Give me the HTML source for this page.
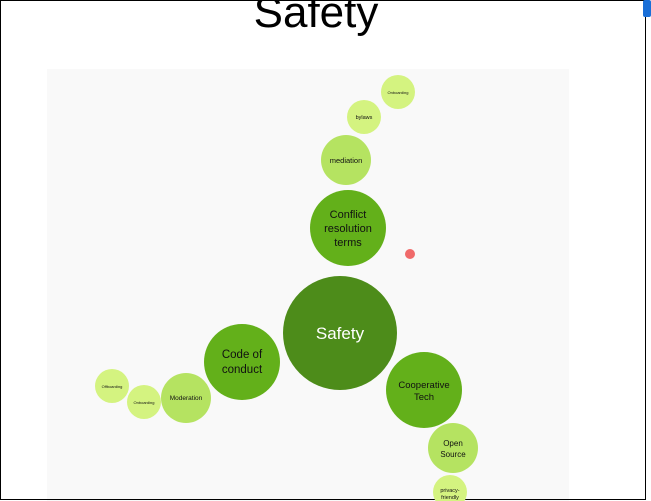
<!DOCTYPE html>
<html><head><style>
html,body{margin:0;padding:0;width:651px;height:501px;overflow:hidden;background:#fff;font-family:"Liberation Sans",sans-serif}
.frame{position:absolute;left:0;top:0;width:644px;height:498px;border:1px solid #000;border-bottom:1px solid #000}
.title{position:absolute;left:0;width:632px;text-align:center;top:-12px;font-size:44px;color:#000}
.tab{position:absolute;left:643px;top:0;width:8px;height:17px;background:#1a6fd8;border-radius:2px}
.panel{position:absolute;left:47px;top:69px;width:522px;height:432px;background:#f9f9f9}
</style></head><body>
<div class="panel"></div>
<div class="frame"></div>
<div class="title">Safety</div>
<div class="tab"></div>
<svg width="651" height="501" style="position:absolute;left:0;top:0" font-family="Liberation Sans, sans-serif" text-anchor="middle" fill="#111">
<circle cx="340" cy="333" r="57" fill="#4d8c1a"/>
<text x="340" y="339" font-size="17" fill="#fff">Safety</text>
<circle cx="348" cy="228" r="38" fill="#63b01a"/>
<text x="348" y="218" font-size="11">Conflict</text>
<text x="348" y="232" font-size="11">resolution</text>
<text x="348" y="246" font-size="11">terms</text>
<circle cx="242" cy="362" r="38" fill="#63b01a"/>
<text x="242" y="358" font-size="11.5">Code of</text>
<text x="242" y="373" font-size="11.5">conduct</text>
<circle cx="424" cy="390" r="38" fill="#63b01a"/>
<text x="424" y="388" font-size="9.5">Cooperative</text>
<text x="424" y="400" font-size="9.5">Tech</text>
<circle cx="346" cy="160" r="25" fill="#b5e361"/>
<text x="346" y="163" font-size="7.5">mediation</text>
<circle cx="364" cy="117" r="17" fill="#d4f380"/>
<text x="364" y="119" font-size="5.5">bylaws</text>
<circle cx="398" cy="92" r="17" fill="#d4f380"/>
<text x="398" y="94" font-size="4">Onboarding</text>
<circle cx="186" cy="398" r="25" fill="#b5e361"/>
<text x="186" y="400" font-size="6.5">Moderation</text>
<circle cx="144" cy="402" r="17" fill="#d4f380"/>
<text x="144" y="404" font-size="4">Onboarding</text>
<circle cx="112" cy="386" r="17" fill="#d4f380"/>
<text x="112" y="388" font-size="4">Offboarding</text>
<circle cx="453" cy="448" r="25" fill="#b5e361"/>
<text x="453" y="446" font-size="8">Open</text>
<text x="453" y="457" font-size="8">Source</text>
<circle cx="450" cy="492" r="17" fill="#d4f380"/>
<text x="450" y="492" font-size="5.5">privacy-</text>
<text x="450" y="499" font-size="5.5">friendly</text>
<circle cx="410" cy="254" r="5" fill="#f06a6a"/>
</svg>
</body></html>
